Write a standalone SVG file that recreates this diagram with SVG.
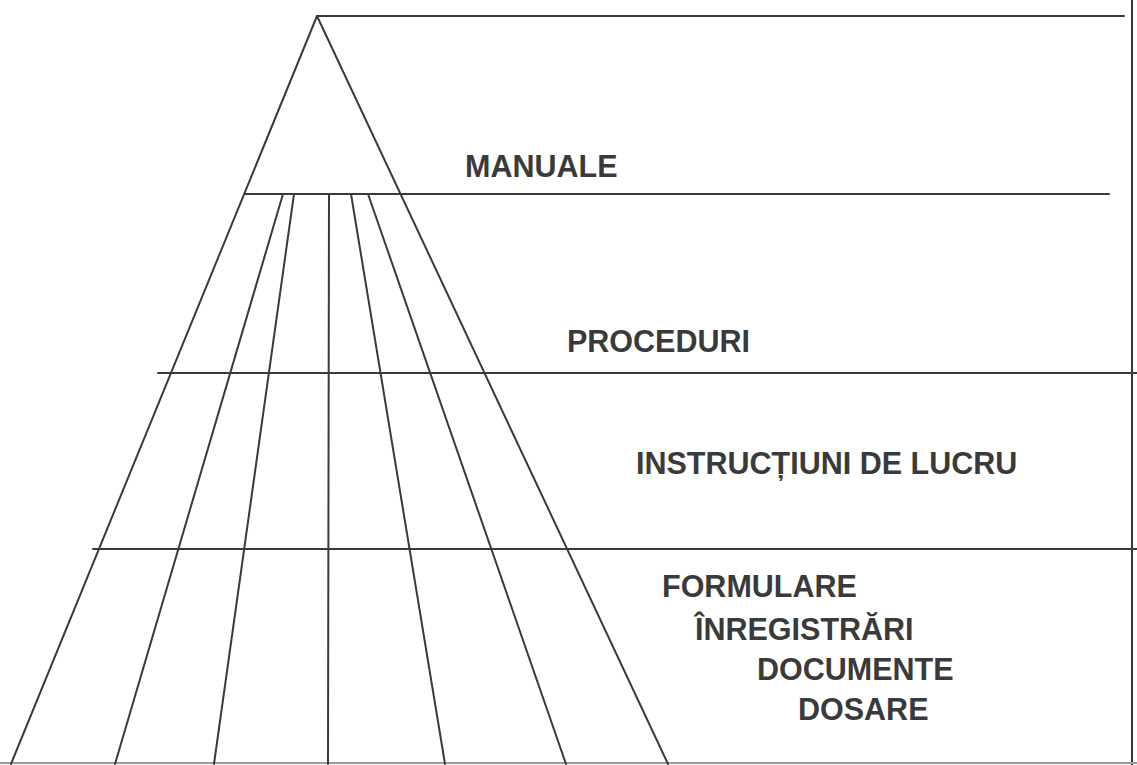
<svg xmlns="http://www.w3.org/2000/svg" width="1137" height="765" viewBox="0 0 1137 765">
<style>
.ln{stroke:#3a3a3a;stroke-width:2;fill:none;stroke-linecap:round}
.lt{stroke:#9a9a9a;stroke-width:2;fill:none}
.t{font-family:"Liberation Sans",Arial,sans-serif;font-weight:bold;font-size:30.5px;fill:#3a3a3a}
</style>
<rect x="0" y="0" width="1137" height="765" fill="#ffffff"/>
<g id="connectors">
<line class="ln" x1="317" y1="16" x2="1124" y2="16"/>
<line class="ln" x1="245" y1="194" x2="1109" y2="194"/>
<line class="ln" x1="158" y1="373" x2="1137" y2="373"/>
<line class="ln" x1="93" y1="549" x2="1137" y2="549"/>
<line class="ln" x1="1132" y1="0" x2="1132" y2="765"/>
<line class="lt" x1="0" y1="763" x2="1137" y2="763"/>
<line class="ln" x1="317" y1="16" x2="11" y2="764"/>
<line class="ln" x1="317" y1="16" x2="668" y2="764"/>
<line class="ln" x1="283" y1="194" x2="115" y2="764"/>
<line class="ln" x1="294" y1="194" x2="214" y2="764"/>
<line class="ln" x1="329" y1="194" x2="328" y2="764"/>
<line class="ln" x1="351" y1="194" x2="445" y2="764"/>
<line class="ln" x1="368" y1="194" x2="566" y2="764"/>
</g>
<g id="manuale"><text class="t" x="465" y="177">MANUALE</text></g>
<g id="proceduri"><text class="t" x="567" y="352">PROCEDURI</text></g>
<g id="instructiuni"><text class="t" x="636" y="474">INSTRUCȚIUNI DE LUCRU</text></g>
<g id="formulare"><text class="t" x="662" y="597">FORMULARE</text></g>
<g id="inregistrari"><text class="t" x="695" y="640">ÎNREGISTRĂRI</text></g>
<g id="documente"><text class="t" x="757" y="680">DOCUMENTE</text></g>
<g id="dosare"><text class="t" x="798" y="720">DOSARE</text></g>
</svg>
